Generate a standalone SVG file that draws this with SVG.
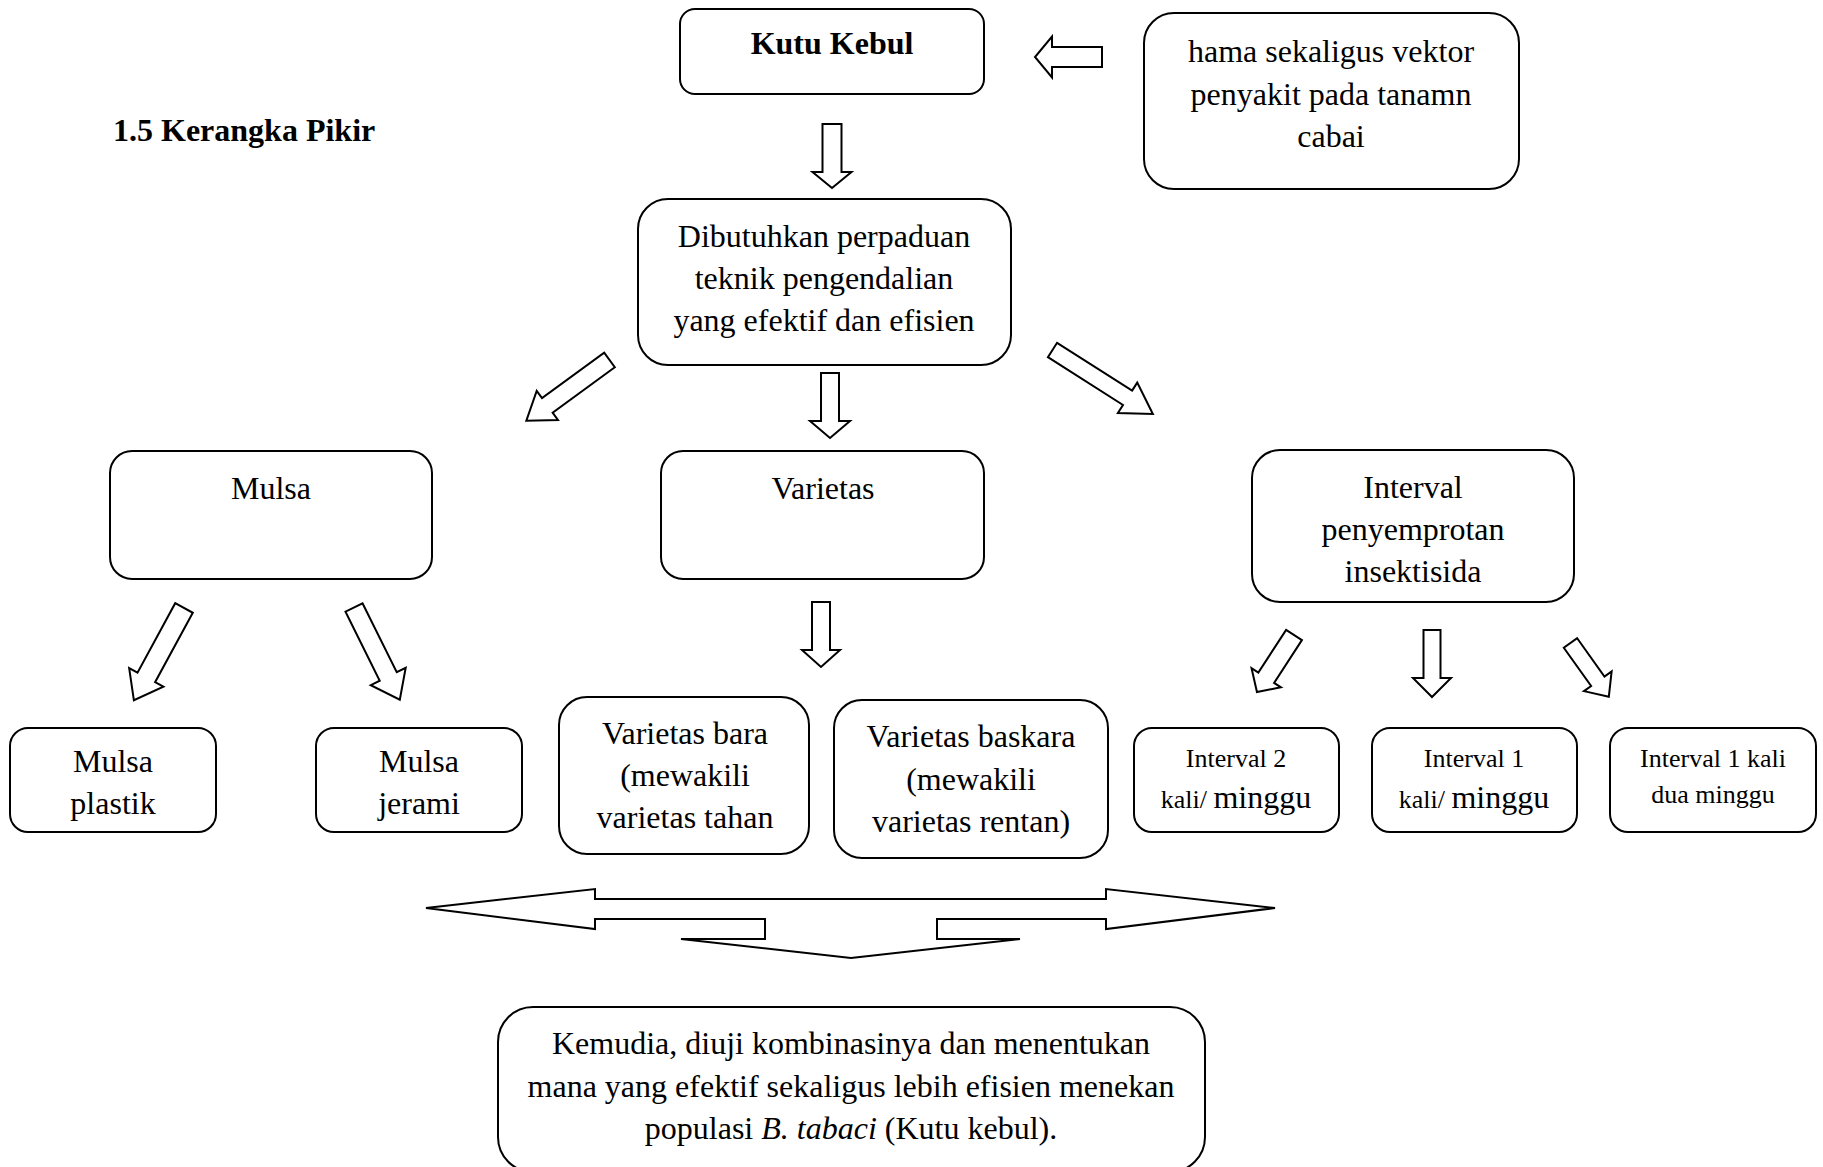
<svg xmlns="http://www.w3.org/2000/svg" width="1823" height="1167" viewBox="0 0 1823 1167">
<style>
  .box { fill: #ffffff; stroke: #000000; stroke-width: 2; }
  .arr { fill: #ffffff; stroke: #000000; stroke-width: 2; stroke-linejoin: miter; }
  text { font-family: "Liberation Serif", "Times New Roman", serif; fill: #000000; }
  .t { font-size: 32px; text-anchor: middle; }
  .s { font-size: 26px; text-anchor: middle; }
  .b { font-weight: bold; font-size: 32px; }
</style>
<rect x="0" y="0" width="1823" height="1167" fill="#ffffff"/>

<text id="title" class="b" x="113" y="141">1.5 Kerangka Pikir</text>

<g id="connectors">
  <polygon class="arr" points="0,-9.5 48,-9.5 48,-19.5 64,0 48,19.5 48,9.5 0,9.5" transform="translate(832,124) rotate(90)"/>
  <polygon class="arr" points="0,-10 50,-10 50,-20.5 67,0 50,20.5 50,10 0,10" transform="translate(1102,57) rotate(180)"/>
  <polygon class="arr" points="0,-9 77,-9 77,-18 103,0 77,18 77,9 0,9" transform="translate(609.5,360) rotate(143.85)"/>
  <polygon class="arr" points="0,-9 48,-9 48,-20 65,0 48,20 48,9 0,9" transform="translate(830,373) rotate(90)"/>
  <polygon class="arr" points="0,-8.5 89,-8.5 89,-18 119,0 89,18 89,8.5 0,8.5" transform="translate(1052.5,350) rotate(32.5)"/>
  <polygon class="arr" points="0,-10 79,-10 79,-19.5 105,0 79,19.5 79,10 0,10" transform="translate(184,608) rotate(118.5)"/>
  <polygon class="arr" points="0,-9.5 77,-9.5 77,-19.5 103,0 77,19.5 77,9.5 0,9.5" transform="translate(354,607.5) rotate(63.6)"/>
  <polygon class="arr" points="0,-9 48,-9 48,-19 65,0 48,19 48,9 0,9" transform="translate(821,602) rotate(90)"/>
  <polygon class="arr" points="0,-9.4 51,-9.4 51,-17.5 68,0 51,17.5 51,9.4 0,9.4" transform="translate(1294,635) rotate(123)"/>
  <polygon class="arr" points="0,-8.5 48,-8.5 48,-19 67,0 48,19 48,8.5 0,8.5" transform="translate(1432,630) rotate(90)"/>
  <polygon class="arr" points="0,-8.2 47,-8.2 47,-17 66,0 47,17 47,8.2 0,8.2" transform="translate(1570.5,643) rotate(54.5)"/>
  <path class="arr" d="M426,908 L595,889 L595,899 L1106,899 L1106,889 L1275,908 L1106,929 L1106,919 L937,919 L937,939 L1020,939 L851,958 L681,939 L765,939 L765,919 L595,919 L595,929 Z"/>
</g>

<g id="kutu-kebul">
  <rect class="box" x="680" y="9" width="304" height="85" rx="15"/>
  <text class="b" x="832" y="54" text-anchor="middle">Kutu Kebul</text>
</g>

<g id="hama">
  <rect class="box" x="1144" y="13" width="375" height="176" rx="30"/>
  <text class="t" x="1331" y="62">hama sekaligus vektor</text>
  <text class="t" x="1331" y="105">penyakit pada tanamn</text>
  <text class="t" x="1331" y="147">cabai</text>
</g>

<g id="dibutuhkan">
  <rect class="box" x="638" y="199" width="373" height="166" rx="30"/>
  <text class="t" x="824" y="247">Dibutuhkan perpaduan</text>
  <text class="t" x="824" y="289">teknik pengendalian</text>
  <text class="t" x="824" y="331">yang efektif dan efisien</text>
</g>

<g id="mulsa">
  <rect class="box" x="110" y="451" width="322" height="128" rx="22"/>
  <text class="t" x="271" y="499">Mulsa</text>
</g>

<g id="varietas">
  <rect class="box" x="661" y="451" width="323" height="128" rx="22"/>
  <text class="t" x="823" y="499">Varietas</text>
</g>

<g id="interval">
  <rect class="box" x="1252" y="450" width="322" height="152" rx="28"/>
  <text class="t" x="1413" y="498">Interval</text>
  <text class="t" x="1413" y="540">penyemprotan</text>
  <text class="t" x="1413" y="582">insektisida</text>
</g>

<g id="mulsa-plastik">
  <rect class="box" x="10" y="728" width="206" height="104" rx="18"/>
  <text class="t" x="113" y="772">Mulsa</text>
  <text class="t" x="113" y="814">plastik</text>
</g>

<g id="mulsa-jerami">
  <rect class="box" x="316" y="728" width="206" height="104" rx="18"/>
  <text class="t" x="419" y="772">Mulsa</text>
  <text class="t" x="419" y="814">jerami</text>
</g>

<g id="varietas-bara">
  <rect class="box" x="559" y="697" width="250" height="157" rx="28"/>
  <text class="t" x="685" y="744">Varietas bara</text>
  <text class="t" x="685" y="786">(mewakili</text>
  <text class="t" x="685" y="828">varietas tahan</text>
</g>

<g id="varietas-baskara">
  <rect class="box" x="834" y="700" width="274" height="158" rx="28"/>
  <text class="t" x="971" y="747">Varietas baskara</text>
  <text class="t" x="971" y="790">(mewakili</text>
  <text class="t" x="971" y="832">varietas rentan)</text>
</g>

<g id="interval-2">
  <rect class="box" x="1134" y="728" width="205" height="104" rx="18"/>
  <text class="s" x="1236" y="767">Interval 2</text>
  <text class="s" x="1236" y="808">kali/ <tspan font-size="32">minggu</tspan></text>
</g>

<g id="interval-1">
  <rect class="box" x="1372" y="728" width="205" height="104" rx="18"/>
  <text class="s" x="1474" y="767">Interval 1</text>
  <text class="s" x="1474" y="808">kali/ <tspan font-size="32">minggu</tspan></text>
</g>

<g id="interval-1-kali">
  <rect class="box" x="1610" y="728" width="206" height="104" rx="18"/>
  <text class="s" x="1713" y="767">Interval 1 kali</text>
  <text class="s" x="1713" y="803">dua minggu</text>
</g>

<g id="kesimpulan">
  <rect class="box" x="498" y="1007" width="707" height="165" rx="35"/>
  <text class="t" x="851" y="1054">Kemudia, diuji kombinasinya dan menentukan</text>
  <text class="t" x="851" y="1097">mana yang efektif sekaligus lebih efisien menekan</text>
  <text class="t" x="851" y="1139">populasi <tspan font-style="italic">B. tabaci</tspan> (Kutu kebul).</text>
</g>
</svg>
